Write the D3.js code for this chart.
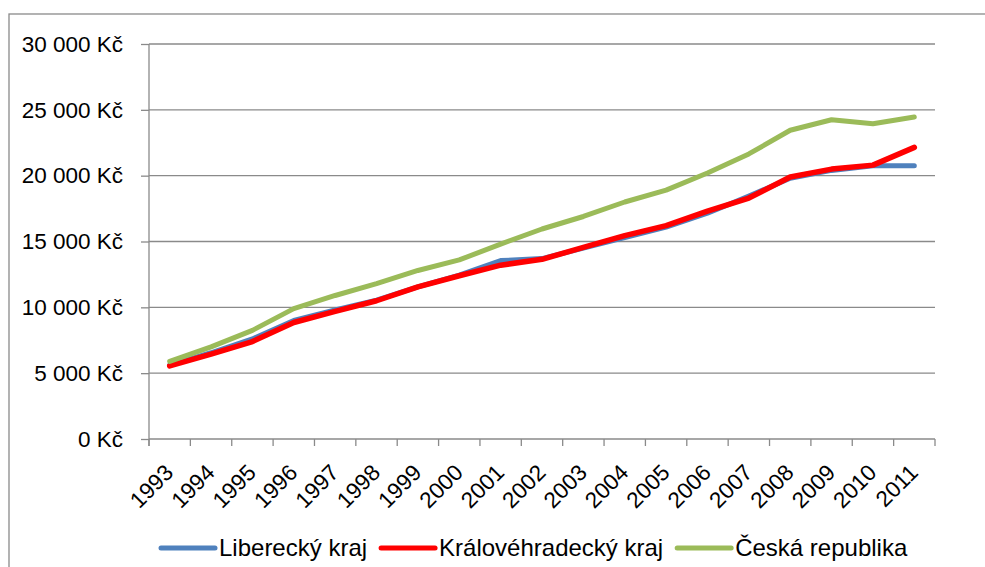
<!DOCTYPE html>
<html>
<head>
<meta charset="utf-8">
<script src="https://cdn.jsdelivr.net/npm/d3@7"></script>
<style>
  html, body { margin: 0; padding: 0; background: #fff; }
  svg { display: block; }
  text { font-family: "Liberation Sans", Arial, sans-serif; fill: #000; }
</style>
</head>
<body>
<svg id="chart" width="985" height="567"></svg>
<script>
const years = ["1993","1994","1995","1996","1997","1998","1999","2000","2001","2002","2003","2004","2005","2006","2007","2008","2009","2010","2011"];
const liberecky = [5600, 6550, 7600, 9000, 9800, 10550, 11550, 12450, 13550, 13700, 14500, 15300, 16100, 17150, 18450, 19800, 20400, 20750, 20750];
const kralovehradecky = [5550, 6450, 7400, 8850, 9700, 10500, 11550, 12400, 13200, 13650, 14550, 15450, 16200, 17300, 18300, 19900, 20500, 20800, 22150];
const ceskaRepublika = [5900, 7000, 8250, 9900, 10900, 11800, 12800, 13600, 14800, 15950, 16900, 18000, 18900, 20200, 21650, 23450, 24250, 23950, 24450];
const yTicks = [0, 5000, 10000, 15000, 20000, 25000, 30000];
const seriesNames = ["Liberecký kraj", "Královéhradecký kraj", "Česká republika"];
const seriesColors = ["#4F81BD", "#FF0000", "#9BBB59"];

const series = [
  { name: seriesNames[0], values: liberecky, color: seriesColors[0], width: 5 },
  { name: seriesNames[1], values: kralovehradecky, color: seriesColors[1], width: 5.5 },
  { name: seriesNames[2], values: ceskaRepublika, color: seriesColors[2], width: 5 }
];

const svg = d3.select("#chart");
const plotLeft = 149, plotRight = 935, plotTop = 44, plotBottom = 439;

// outer border
svg.append("rect").attr("x", 9).attr("y", 14).attr("width", 1000).attr("height", 600)
  .attr("fill", "none").attr("stroke", "#8a8a8a").attr("stroke-width", 1.3);

const x = d3.scaleBand().domain(years).range([plotLeft, plotRight]).padding(0);
const y = d3.scaleLinear().domain([0, 30000]).range([plotBottom, plotTop]);
const fmt = v => d3.format(",")(v).replace(/,/g, " ") + " Kč";

// gridlines
svg.append("g").selectAll("line").data(yTicks.filter(d => d > 0)).join("line")
  .attr("x1", plotLeft).attr("x2", plotRight)
  .attr("y1", d => y(d)).attr("y2", d => y(d))
  .attr("stroke", "#8a8a8a").attr("stroke-width", 1.3);

// y axis
const yAxis = svg.append("g").attr("transform", `translate(${plotLeft},0)`)
  .call(d3.axisLeft(y).tickValues(yTicks).tickSize(8).tickPadding(18).tickFormat(fmt));
yAxis.select(".domain").attr("stroke", "#8a8a8a").attr("stroke-width", 1.3)
  .attr("d", `M0,${plotTop}V${plotBottom + 7}`);
yAxis.selectAll(".tick line").attr("stroke", "#8a8a8a").attr("stroke-width", 1.3);
yAxis.selectAll(".tick text").style("font-size", "22.5px").attr("fill", "#000")
  .attr("font-family", "Liberation Sans, Arial, sans-serif");

// x axis baseline
svg.append("line").attr("x1", plotLeft).attr("x2", plotRight).attr("y1", plotBottom).attr("y2", plotBottom)
  .attr("stroke", "#8a8a8a").attr("stroke-width", 1.3);
// x ticks at category boundaries
const bounds = years.map(d => x(d)).concat([x(years[years.length - 1]) + x.bandwidth()]);
svg.append("g").selectAll("line").data(bounds).join("line")
  .attr("x1", d => d).attr("x2", d => d).attr("y1", plotBottom).attr("y2", plotBottom + 7)
  .attr("stroke", "#8a8a8a").attr("stroke-width", 1.3);
// x labels
svg.append("g").selectAll("text").data(years).join("text")
  .attr("transform", d => `translate(${x(d) + x.bandwidth() / 2 + 5},474) rotate(-45)`)
  .attr("text-anchor", "end")
  .style("font-size", "22.5px")
  .text(d => d);

// lines
const line = d3.line()
  .x((d, i) => x(years[i]) + x.bandwidth() / 2)
  .y(d => y(d));
svg.append("g").selectAll("path").data(series).join("path")
  .attr("d", d => line(d.values))
  .attr("fill", "none")
  .attr("stroke", d => d.color)
  .attr("stroke-width", d => d.width)
  .attr("stroke-linecap", "round")
  .attr("stroke-linejoin", "round");

// legend
const legend = svg.append("g");
let lx = 161;
const ly = 548;
series.forEach(s => {
  legend.append("line").attr("x1", lx).attr("x2", lx + 54).attr("y1", ly).attr("y2", ly)
    .attr("stroke", s.color).attr("stroke-width", 5).attr("stroke-linecap", "round");
  const t = legend.append("text").attr("x", lx + 58).attr("y", ly + 8)
    .style("font-size", "24px").text(s.name);
  lx = lx + 58 + t.node().getComputedTextLength() + 14;
});
</script>
</body>
</html>
